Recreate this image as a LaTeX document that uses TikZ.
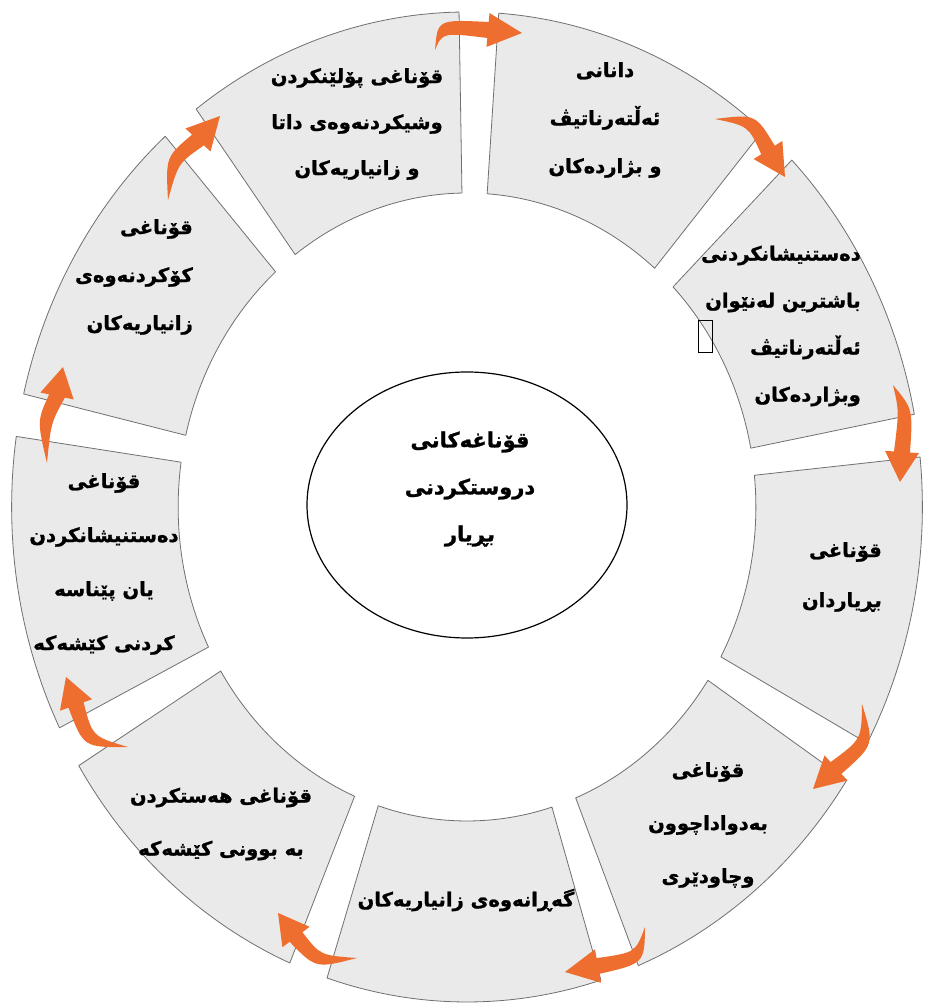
\documentclass[tikz,border=0pt]{standalone}
\usepackage{fontspec}
\newfontfamily\kurd[Script=Arabic, BoldFeatures={FakeBold=1.2}]{DejaVu Sans}
\TeXXeTstate=1
\usetikzlibrary{calc}
\definecolor{segfill}{RGB}{234,234,234}
\definecolor{segline}{RGB}{112,112,112}
\definecolor{arrowor}{RGB}{238,110,48}
\newcommand{\rl}[1]{\beginR #1\endR}
\newcommand{\orarrow}[5]{%
  \coordinate (#1T) at #2; \coordinate (#1C) at #3;
  \coordinate (#1B) at #4; \coordinate (#1P) at #5;
  \coordinate (#1n) at ($(#1T)!7pt!90:(#1B)$);
  \coordinate (#1m) at ($(#1T)!7pt!-90:(#1B)$);
  \coordinate (#1Ca) at ($(#1C)+(#1n)-(#1T)$);
  \coordinate (#1Cb) at ($(#1C)+(#1m)-(#1T)$);
  \fill[arrowfill] (#1T) .. controls (#1Ca) .. ($(#1B)!8pt!90:(#1P)$)
     -- ($(#1B)!17pt!90:(#1P)$) -- (#1P) -- ($(#1B)!17pt!-90:(#1P)$)
     -- ($(#1B)!8pt!-90:(#1P)$) .. controls (#1Cb) .. (#1T) -- cycle;}
\newcommand{\ringseg}[2]{%
  \draw[segstyle] (#1:314) -- (#1:495) arc[start angle=#1, end angle=#2, radius=495]
     -- (#2:314) arc[start angle=#2, end angle=#1, radius=314] -- cycle;}
\tikzset{
  segstyle/.style={fill=segfill, draw=segline, line width=0.8pt, line join=round},
  arrowfill/.style={fill=arrowor},
  txt/.style={font={\kurd\bfseries\fontsize{19.5}{#1}\selectfont}, inner sep=0pt, text=black},
  txt/.default=48,
  ctxt/.style={font={\kurd\bfseries\fontsize{21}{#1}\selectfont}, inner sep=0pt, text=black}
}
\begin{document}
\begin{tikzpicture}[x=1pt,y=1pt]
\useasboundingbox (0,0) rectangle (925,1007);
\fill[white] (0,0) rectangle (925,1007);
% ring
\begin{scope}[shift={(467,500)}, xscale=0.92]
  \ringseg{126.5}{91}
  \ringseg{86}{49.5}
  \ringseg{44.5}{10.8}
  \ringseg{5.8}{-28.5}
  \ringseg{-33.5}{-67.9}
  \ringseg{-72.9}{-107.9}
  \ringseg{-112.9}{-148.5}
  \ringseg{-153.5}{-188.2}
  \ringseg{166.8}{131.5}
\end{scope}
% centre ellipse
\draw[line width=1.2pt] (467,502) ellipse [x radius=160, y radius=133];
\node[ctxt=47, align=center] (centre) at (470,518) {\rl{قۆناغەکانی}\\\rl{دروستکردنی}\\\rl{بڕیار}};
% arrows
\orarrow{a1}{(435,957)}{(440,981)}{(488,977)}{(522,974)}
\orarrow{a2}{(715,888)}{(752,887)}{(768,857)}{(785,830)}
\orarrow{a3}{(893,622)}{(906,597)}{(902,555)}{(900,525)}
\orarrow{a4}{(862,303)}{(868,265)}{(836,239)}{(813,218)}
\orarrow{a5}{(645,80)}{(640,49)}{(598,41)}{(565,35)}
\orarrow{a6}{(357,49)}{(318,45)}{(296,70)}{(278,94)}
\orarrow{a7}{(128,260)}{(88,265)}{(76,302)}{(66,330)}
\orarrow{a8}{(47,544)}{(44,585)}{(57,611)}{(63,640)}
\orarrow{a9}{(168,807)}{(172,847)}{(198,867)}{(220,891)}
% texts
\node[txt=46, align=center] (polen) at (357,883) {\rl{قۆناغی پۆلێنکردن}\\\rl{وشیکردنەوەی داتا}\\\rl{و زانیاریەکان}};
\node[txt=48, align=center] (danani) at (605,887) {\rl{دانانی}\\\rl{ئەڵتەرناتیڤ}\\\rl{و بژاردەکان}};
\node[txt=47, align=right, anchor=east] (dast) at (861,681) {\rl{دەستنیشانکردنی}\\\rl{باشترین لەنێوان}\\\rl{ئەڵتەرناتیڤ}\\\rl{وبژاردەکان}};
\node[draw, line width=0.6pt, minimum width=14pt, minimum height=32pt, inner sep=0pt] (box) at (705,671) {};
\node[txt=50, align=right, anchor=east] (bir) at (882,430) {\rl{قۆناغی}\\\rl{بڕیاردان}};
\node[txt=53, align=center] (bedw) at (708,182) {\rl{قۆناغی}\\\rl{بەدواداچوون}\\\rl{وچاودێری}};
\node[txt] (gar) at (466,107) {\rl{گەڕانەوەی زانیاریەکان}};
\node[txt=53, align=center] (hest) at (221,183) {\rl{قۆناغی هەستکردن}\\\rl{بە بوونی کێشەکە}};
\node[txt=54, align=center] (left) at (104,443) {\rl{قۆناغی}\\\rl{دەستنیشانکردن}\\\rl{یان پێناسە}\\\rl{کردنی کێشەکە}};
\node[txt=48, align=right, anchor=east] (ko) at (193,730) {\rl{قۆناغی}\\\rl{کۆکردنەوەی}\\\rl{زانیاریەکان}};
\end{tikzpicture}
\end{document}
